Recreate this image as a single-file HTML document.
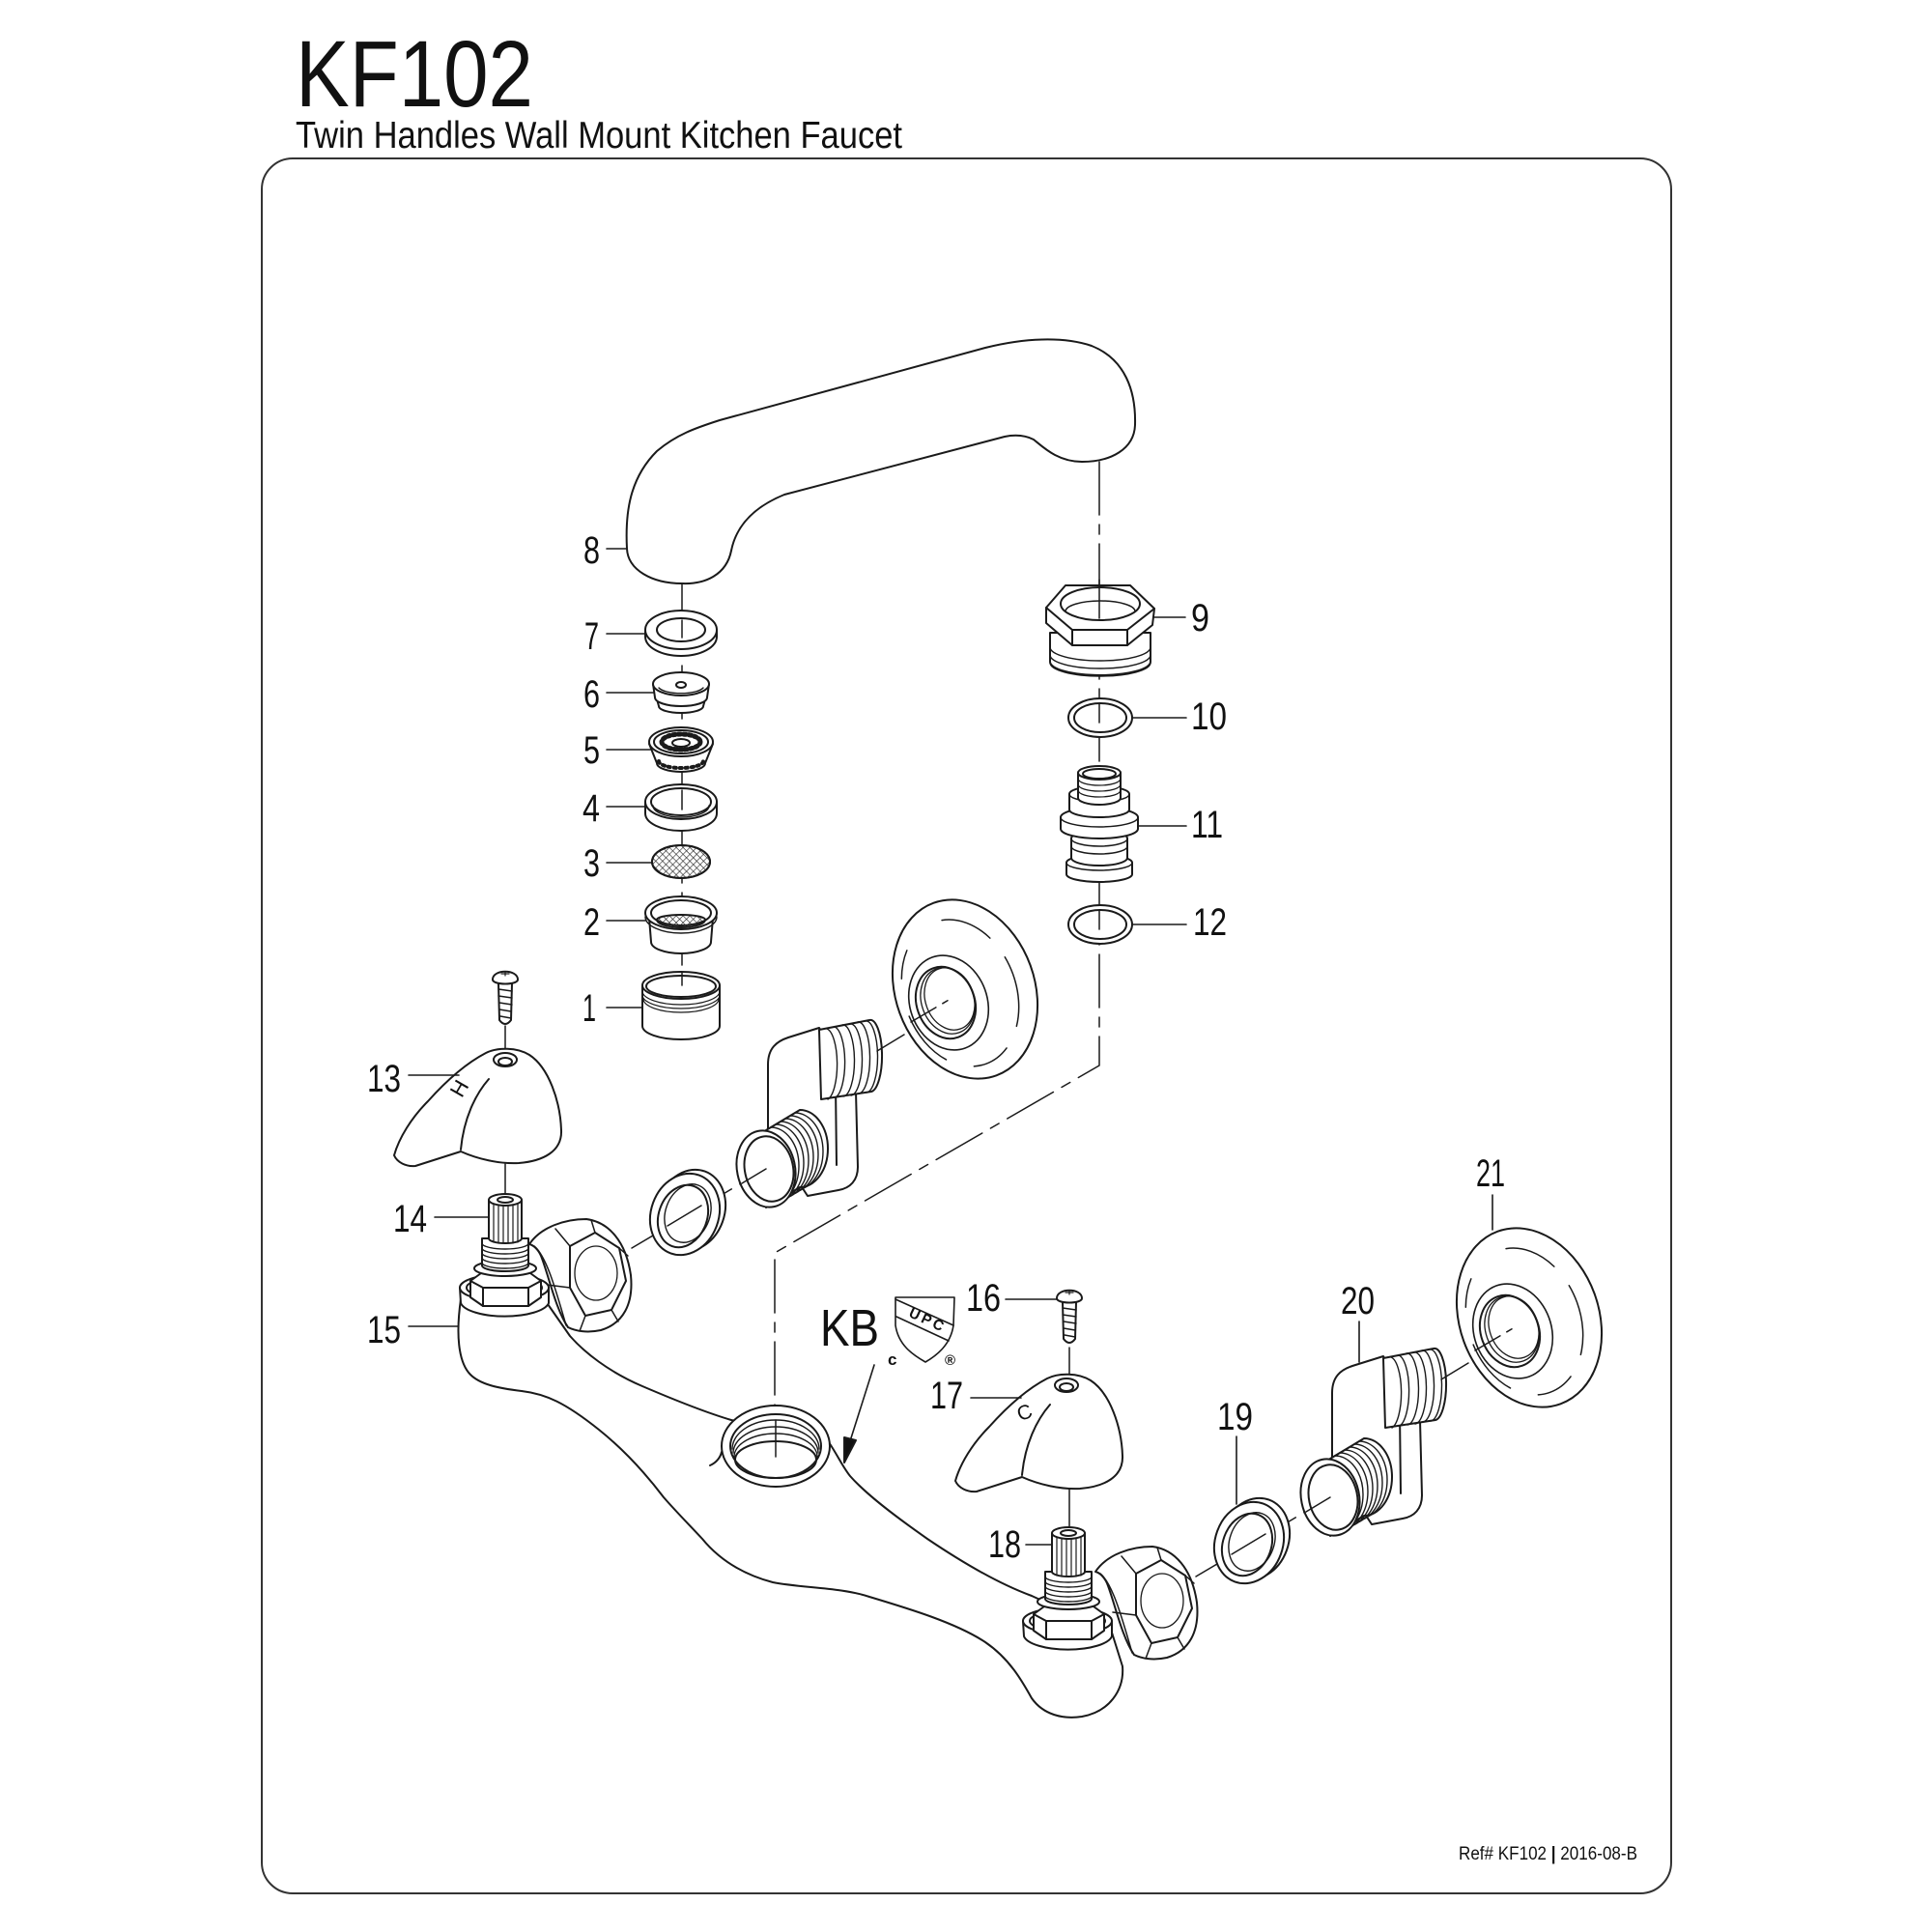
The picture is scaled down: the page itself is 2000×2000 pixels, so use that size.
<!DOCTYPE html>
<html><head><meta charset="utf-8">
<style>
html,body{margin:0;padding:0;background:#fff;}
svg{display:block;}
text{font-family:"Liberation Sans",Arial,sans-serif;fill:#111;stroke:none;}
</style></head><body>
<svg width="2000" height="2000" viewBox="0 0 2000 2000" xmlns="http://www.w3.org/2000/svg" xmlns:xlink="http://www.w3.org/1999/xlink">
<defs>
<pattern id="mesh" width="5" height="5" patternUnits="userSpaceOnUse" patternTransform="rotate(45)">
<path d="M0,0 L5,0 M0,0 L0,5" stroke="#222" stroke-width="1.2" fill="none"/>
</pattern>

<g id="screw">
<path d="M516,1018 L517,1056 Q523,1064 529,1056 L530,1018" fill="#fff"/>
<path d="M516,1024 L530,1026 M516,1031 L530,1033 M517,1038 L530,1040 M517,1045 L529,1047 M518,1052 L529,1054" stroke-width="1.4"/>
<path d="M510,1014 C510,1003 536,1003 536,1014 C536,1020 510,1020 510,1014 Z" fill="#fff"/>
<path d="M519,1008 L527,1008 M523,1006 L523,1010" stroke-width="1.2"/>
</g>

<g id="handle">
<path d="M503,1090 C515,1084 535,1084 548,1092 C568,1105 580,1140 581,1170 C582,1192 562,1202 537,1204 C517,1205 495,1200 477,1192 L430,1207 C420,1208 411,1203 408,1196 C413,1178 426,1157 443,1140 C460,1121 480,1102 503,1090 Z" fill="#fff"/>
<path d="M506,1117 C492,1133 480,1158 477,1190"/>
<ellipse cx="523" cy="1097" rx="12" ry="7" fill="#fff"/>
<ellipse cx="523" cy="1099" rx="7" ry="4"/>
</g>

<g id="stem">
<path d="M476,1333 L477,1349 A46,16 0 0 0 568,1349 L568,1333 Z" fill="#fff"/>
<ellipse cx="522" cy="1333" rx="46" ry="14" fill="#fff"/>
<ellipse cx="522" cy="1333" rx="39" ry="11"/>
<path d="M487,1326 L498,1318 L549,1318 L560,1326 L560,1343 L547,1352 L500,1352 L487,1343 Z" fill="#fff"/>
<path d="M487,1326 L500,1333 L547,1333 L560,1326 M500,1333 L500,1352 M547,1333 L547,1352"/>
<ellipse cx="523" cy="1313" rx="32" ry="8" fill="#fff"/>
<path d="M499,1282 L499,1310 A24,6 0 0 0 547,1310 L547,1282 Z" fill="#fff"/>
<path d="M499,1287 A24,6 0 0 0 547,1287 M499,1292 A24,6 0 0 0 547,1292 M499,1297 A24,6 0 0 0 547,1297 M499,1302 A24,6 0 0 0 547,1302 M499,1307 A24,6 0 0 0 547,1307" stroke-width="1.4"/>
<path d="M506,1242 L506,1282 A17,5 0 0 0 540,1282 L540,1242 Z" fill="#fff"/>
<path d="M511,1246 L511,1286 M516,1247 L516,1287 M521,1247 L521,1287 M526,1247 L526,1287 M531,1247 L531,1287 M536,1246 L536,1286" stroke-width="1.2"/>
<ellipse cx="523" cy="1242" rx="17" ry="6" fill="#fff"/>
<ellipse cx="523" cy="1242" rx="8" ry="3"/>
</g>

<g id="sidenut">
<path d="M548,1288 C560,1270 585,1262 607,1262 C630,1265 648,1285 653,1320 C656,1350 645,1370 622,1377 C608,1380 596,1378 588,1374 C575,1355 568,1320 560,1300 C557,1293 552,1289 548,1288 Z" fill="#fff"/>
<path d="M553,1290 C565,1300 574,1330 586,1372" stroke-width="1.5"/>
<path d="M590,1290 L616,1276 L641,1292 L648,1326 L633,1356 L606,1362 L590,1333 Z"/>
<path d="M575,1272 L590,1290 M590,1333 L566,1330 M606,1362 L600,1378 M641,1292 L650,1300 M633,1356 L640,1368 M616,1276 L612,1263" stroke-width="1.5"/>
<ellipse cx="617" cy="1318" rx="22" ry="28" stroke-width="1.3"/>
</g>

<g id="asm">
<line x1="1238" y1="1632" x2="1380" y2="1548" stroke-width="1.5" stroke-dasharray="45 10 10 10"/>
<ellipse cx="1299" cy="1593" rx="35" ry="43" transform="rotate(20 1299 1593)" fill="#fff"/>
<ellipse cx="1293" cy="1597" rx="35" ry="43" transform="rotate(20 1293 1597)" fill="#fff"/>
<ellipse cx="1291" cy="1599" rx="25" ry="33" transform="rotate(20 1291 1599)"/>
<ellipse cx="1296" cy="1596" rx="23" ry="31" transform="rotate(20 1296 1596)" stroke-width="1.4"/>
<line x1="1275" y1="1609" x2="1310" y2="1588" stroke-width="1.5"/>
<path d="M1379,1515 L1379,1442 C1379,1425 1388,1418 1400,1414 L1432,1404 L1470,1470 L1472,1548 C1472,1562 1464,1570 1452,1572 L1420,1578 Z" fill="#fff"/>
<path d="M1449,1462 L1450,1546"/>
<path d="M1432,1406 L1484,1396 A12,37 0 0 1 1486,1470 L1434,1478 Z" fill="#fff"/>
<path d="M1440,1405 A12,37 0 0 1 1441,1478 M1448,1403 A12,37 0 0 1 1449,1476 M1456,1401 A12,37 0 0 1 1457,1475 M1464,1400 A12,37 0 0 1 1465,1474 M1472,1398 A12,37 0 0 1 1473,1472 M1480,1397 A12,37 0 0 1 1481,1471" stroke-width="1.4"/>
<path d="M1377,1510 L1412,1489 A29,40 0 0 1 1412,1569 L1377,1590 Z" fill="#fff"/>
<path d="M1382,1507 A29,40 0 0 1 1382,1587 M1387,1504 A29,40 0 0 1 1387,1584 M1392,1501 A29,40 0 0 1 1392,1581 M1397,1498 A29,40 0 0 1 1397,1578 M1402,1495 A29,40 0 0 1 1402,1575 M1407,1492 A29,40 0 0 1 1407,1572" stroke-width="1.4"/>
<ellipse cx="1377" cy="1550" rx="30" ry="40" transform="rotate(-12 1377 1550)" fill="#fff"/>
<ellipse cx="1380" cy="1550" rx="25" ry="34" transform="rotate(-12 1380 1550)"/>
<line x1="1352" y1="1565" x2="1377" y2="1550" stroke-width="1.5"/>
<line x1="1492" y1="1428" x2="1520" y2="1411" stroke-width="1.5"/>
<ellipse cx="1583" cy="1364" rx="72" ry="95" transform="rotate(-20 1583 1364)" fill="#fff"/>
<ellipse cx="1578" cy="1368" rx="58" ry="78" transform="rotate(-20 1578 1368)" stroke-width="1.5" stroke-dasharray="55 25 40 30 60 40 30 50"/>
<ellipse cx="1566" cy="1378" rx="40" ry="50" transform="rotate(-20 1566 1378)" fill="#fff" stroke-width="1.6"/>
<ellipse cx="1563" cy="1378" rx="30" ry="38" transform="rotate(-20 1563 1378)"/>
<ellipse cx="1565" cy="1376" rx="27" ry="35" transform="rotate(-20 1565 1376)" stroke-width="1.3"/>
<ellipse cx="1567" cy="1374" rx="25" ry="33" transform="rotate(-20 1567 1374)" stroke-width="1.3"/>
<line x1="1527" y1="1398" x2="1568" y2="1374" stroke-width="1.5" stroke-dasharray="30 8 6 8"/>
</g>
</defs>

<!-- Title -->
<text x="306" y="110" font-size="97" textLength="246" lengthAdjust="spacingAndGlyphs">KF102</text>
<text x="306" y="153" font-size="39" textLength="628" lengthAdjust="spacingAndGlyphs">Twin Handles Wall Mount Kitchen Faucet</text>

<!-- Frame -->
<rect x="271" y="164" width="1459" height="1796" rx="32" ry="32" fill="none" stroke="#333" stroke-width="2"/>

<!-- Footer -->
<text x="1510" y="1925" font-size="19" textLength="185" lengthAdjust="spacingAndGlyphs">Ref# KF102 <tspan font-weight="bold">|</tspan> 2016-08-B</text>

<g stroke="#1a1a1a" stroke-width="2" fill="none" stroke-linecap="round" stroke-linejoin="round">

<!-- Axes (dash-dot) -->
<g stroke-width="1.5" stroke-dasharray="55 10 10 10">
<line x1="706" y1="604" x2="706" y2="1022"/>
<polyline points="1138,478 1138,1103 802,1297 802,1508"/>
<line x1="523" y1="1062" x2="523" y2="1092"/>
<line x1="523" y1="1205" x2="523" y2="1240"/>
<line x1="1107" y1="1395" x2="1107" y2="1428"/>
<line x1="1107" y1="1540" x2="1107" y2="1580"/>
</g>

<!-- Spout 8 -->
<path d="M649,568 C647,530 652,495 680,467 C700,450 720,443 745,435 L1020,360 C1060,350 1100,348 1130,358 C1165,372 1176,405 1175,440 C1174,465 1150,478 1120,478 C1095,478 1080,463 1070,455 C1060,450 1050,450 1040,452 L812,512 C780,525 762,545 757,570 C752,595 730,605 706,604 C675,604 650,590 649,568 Z" fill="#fff"/>

<!-- Part 7 -->
<path d="M668,652 L668,659 A37,20 0 0 0 742,659 L742,652 Z" fill="#fff"/>
<ellipse cx="705" cy="652" rx="37" ry="20" fill="#fff"/>
<ellipse cx="705" cy="652" rx="25" ry="12"/>
<line x1="706" y1="642" x2="706" y2="660" stroke-width="1.5"/>

<!-- Part 6 -->
<path d="M680,724 L682,731 A23,7 0 0 0 728,731 L730,724 Z" fill="#fff"/>
<path d="M676,708 L678,722 A27,9 0 0 0 732,722 L734,708 Z" fill="#fff"/>
<ellipse cx="705" cy="708" rx="29" ry="12" fill="#fff"/>
<path d="M682,712 A24,8 0 0 0 728,712" stroke-width="1.4"/>
<ellipse cx="705" cy="709" rx="5" ry="3"/>

<!-- Part 5 -->
<path d="M672,770 L680,790 A25,9 0 0 0 730,790 L738,770 Z" fill="#fff"/>
<path d="M682,788 A23,7 0 0 0 728,788" stroke-width="4" stroke-dasharray="2 4"/>
<ellipse cx="705" cy="768" rx="33" ry="15" fill="#fff"/>
<ellipse cx="705" cy="768" rx="28" ry="12"/>
<ellipse cx="705" cy="768" rx="20" ry="8" stroke-width="5" stroke-dasharray="2.5 3"/>
<ellipse cx="705" cy="769" rx="9" ry="4"/>

<!-- Part 4 -->
<path d="M668,830 L668,842 A37,18 0 0 0 742,842 L742,830 Z" fill="#fff"/>
<ellipse cx="705" cy="830" rx="37" ry="18" fill="#fff"/>
<ellipse cx="705" cy="830" rx="31" ry="14"/>
<path d="M676,834 A29,12 0 0 0 734,834" stroke-width="1.4"/>
<line x1="706" y1="818" x2="706" y2="838" stroke-width="1.5"/>

<!-- Part 3 -->
<ellipse cx="705" cy="892" rx="30" ry="17" fill="#fff"/>
<ellipse cx="705" cy="892" rx="30" ry="17" fill="url(#mesh)"/>

<!-- Part 2 -->
<path d="M672,950 L674,975 A31,12 0 0 0 736,975 L738,950 Z" fill="#fff"/>
<ellipse cx="705" cy="945" rx="37" ry="17" fill="#fff"/>
<ellipse cx="705" cy="945" rx="31" ry="13"/>
<path d="M680,952 A25,8 0 0 0 730,952 A25,5 0 0 0 680,952 Z" fill="url(#mesh)"/>
<path d="M668,949 A37,17 0 0 0 742,949" stroke-width="1.4"/>

<!-- Part 1 -->
<path d="M665,1020 L665,1062 A40,14 0 0 0 745,1062 L745,1020 Z" fill="#fff"/>
<ellipse cx="705" cy="1020" rx="40" ry="14" fill="#fff"/>
<ellipse cx="705" cy="1021" rx="36" ry="11"/>
<path d="M665,1026 A40,14 0 0 0 745,1026 M665,1030 A40,14 0 0 0 745,1030 M666,1034 A39,14 0 0 0 744,1034" stroke-width="1.2"/>
<line x1="706" y1="1006" x2="706" y2="1020" stroke-width="1.5"/>

<!-- Part 9 -->
<path d="M1087,655 L1087,685 A52,14 0 0 0 1191,685 L1191,655 Z" fill="#fff"/>
<path d="M1087,670 A52,14 0 0 0 1191,670 M1087,678 A52,14 0 0 0 1191,678 M1087,686 A52,14 0 0 0 1191,686" stroke-width="1.4"/>
<path d="M1083,629 L1103,606 L1170,606 L1195,630 L1193,647 L1167,668 L1110,668 L1083,645 Z" fill="#fff"/>
<path d="M1083,629 L1110,652 L1167,652 L1195,630 M1110,652 L1110,668 M1167,652 L1167,668"/>
<ellipse cx="1139" cy="625" rx="41" ry="17"/>
<path d="M1103,633 A36,11 0 0 1 1175,633" stroke-width="1.5"/>
<line x1="1138" y1="600" x2="1138" y2="640" stroke-width="1.5"/>

<!-- Part 10 -->
<ellipse cx="1139" cy="743" rx="33" ry="20" fill="#fff"/>
<ellipse cx="1139" cy="743" rx="27" ry="15"/>
<line x1="1138" y1="728" x2="1138" y2="748" stroke-width="1.5"/>

<!-- Part 11 -->
<path d="M1104,893 L1104,905 A34,8 0 0 0 1172,905 L1172,893 A34,8 0 0 0 1104,893 Z" fill="#fff"/>
<path d="M1104,893 A34,8 0 0 0 1172,893" stroke-width="1.5"/>
<path d="M1109,868 L1109,888 A29,8 0 0 0 1167,888 L1167,868 A29,8 0 0 0 1109,868 Z" fill="#fff"/>
<path d="M1109,868 A29,8 0 0 0 1167,868 M1109,876 A29,8 0 0 0 1167,876" stroke-width="1.5"/>
<path d="M1098,846 L1098,858 A40,10 0 0 0 1178,858 L1178,846 A40,10 0 0 0 1098,846 Z" fill="#fff"/>
<path d="M1098,846 A40,10 0 0 0 1178,846" stroke-width="1.5"/>
<path d="M1107,822 L1107,838 A31,8 0 0 0 1169,838 L1169,822 A31,8 0 0 0 1107,822 Z" fill="#fff"/>
<path d="M1107,822 A31,8 0 0 0 1169,822" stroke-width="1.5"/>
<path d="M1116,800 L1116,826 A22,7 0 0 0 1160,826 L1160,800 Z" fill="#fff"/>
<path d="M1116,806 A22,7 0 0 0 1160,806 M1116,812 A22,7 0 0 0 1160,812 M1116,818 A22,7 0 0 0 1160,818" stroke-width="1.3"/>
<ellipse cx="1138" cy="800" rx="22" ry="7" fill="#fff"/>
<ellipse cx="1138" cy="801" rx="17" ry="5"/>

<!-- Part 12 -->
<ellipse cx="1139" cy="957" rx="33" ry="20" fill="#fff"/>
<ellipse cx="1139" cy="957" rx="27" ry="15"/>
<line x1="1138" y1="942" x2="1138" y2="962" stroke-width="1.5"/>

<!-- Main body 15 -->
<path d="M477,1345 C472,1380 474,1410 487,1423 C497,1433 515,1437 540,1440 C565,1443 585,1452 620,1480 C645,1500 668,1525 687,1550 C700,1565 715,1580 727,1593 C745,1615 770,1630 800,1638 C830,1644 870,1643 900,1653 C940,1665 990,1680 1020,1700 C1045,1717 1058,1740 1068,1758 C1080,1775 1100,1780 1120,1777 C1148,1772 1164,1750 1162,1725 L1151,1690 L1068,1652 C1035,1640 1000,1620 960,1593 C920,1565 895,1545 880,1528 C872,1518 868,1508 858,1493 L757,1470 C730,1462 700,1450 665,1435 C630,1420 605,1400 590,1383 L560,1340 Z" fill="#fff"/>
<!-- hole -->
<ellipse cx="803" cy="1497" rx="56" ry="42" fill="#fff"/>
<ellipse cx="803" cy="1497" rx="47" ry="33"/>
<path d="M758,1500 A45,30 0 0 1 848,1500 M759,1504 A44,27 0 0 1 847,1504 M760,1508 A43,24 0 0 1 846,1508" stroke-width="1.4"/>
<ellipse cx="803" cy="1511" rx="42" ry="19"/>
<path d="M735,1517 C742,1514 746,1508 747,1503"/>
<line x1="803" y1="1470" x2="803" y2="1508" stroke-width="1.5"/>

<!-- KB arrow -->
<line x1="905" y1="1413" x2="879" y2="1495" stroke-width="1.6"/>
<path d="M874,1488 L886,1491 L874,1514 Z" fill="#111"/>

<!-- Valves -->
<use xlink:href="#sidenut"/>
<use xlink:href="#sidenut" transform="translate(586,339)"/>
<use xlink:href="#stem"/>
<use xlink:href="#stem" transform="translate(583,345)"/>
<use xlink:href="#handle"/>
<use xlink:href="#handle" transform="translate(581,337)"/>
<use xlink:href="#screw"/>
<use xlink:href="#screw" transform="translate(584,330)"/>

<!-- side assemblies -->
<use xlink:href="#asm"/>
<use xlink:href="#asm" transform="translate(-584,-340)"/>

<!-- UPC shield -->
<path d="M927,1343 L988,1343 L987,1372 C984,1392 970,1403 958,1410 C944,1402 930,1392 927,1372 Z" fill="#fff" stroke-width="1.6"/>
<path d="M927,1345 L987,1372 M928,1363 L982,1388" stroke-width="1.6"/>

<!-- Leaders -->
<g stroke-width="1.6">
<line x1="628" y1="568" x2="649" y2="568"/>
<line x1="628" y1="656" x2="668" y2="656"/>
<line x1="628" y1="717" x2="677" y2="717"/>
<line x1="628" y1="776" x2="673" y2="776"/>
<line x1="628" y1="835" x2="668" y2="835"/>
<line x1="628" y1="893" x2="675" y2="893"/>
<line x1="628" y1="953" x2="668" y2="953"/>
<line x1="628" y1="1043" x2="665" y2="1043"/>
<line x1="1195" y1="639" x2="1227" y2="639"/>
<line x1="1172" y1="743" x2="1228" y2="743"/>
<line x1="1178" y1="855" x2="1228" y2="855"/>
<line x1="1172" y1="957" x2="1228" y2="957"/>
<line x1="423" y1="1113" x2="475" y2="1113"/>
<line x1="450" y1="1260" x2="505" y2="1260"/>
<line x1="423" y1="1373" x2="474" y2="1373"/>
<line x1="1041" y1="1345" x2="1094" y2="1345"/>
<line x1="1005" y1="1447" x2="1057" y2="1447"/>
<line x1="1062" y1="1599" x2="1088" y2="1599"/>
<line x1="1280" y1="1487" x2="1280" y2="1557"/>
<line x1="1407" y1="1368" x2="1407" y2="1410"/>
<line x1="1545" y1="1237" x2="1545" y2="1273"/>
</g>
</g>

<!-- Handle symbols -->
<text x="468" y="1134" font-size="22" transform="rotate(-60 476 1127)">H</text>
<text x="1053" y="1469" font-size="21" transform="rotate(-20 1061 1462)">C</text>

<!-- KB / UPC text -->
<text x="849" y="1393" font-size="54" textLength="61" lengthAdjust="spacingAndGlyphs">KB</text>
<text x="919" y="1413" font-size="17" font-weight="bold">c</text>
<text x="978" y="1413" font-size="15" font-weight="bold">®</text>
<text x="940" y="1370" font-size="15" font-weight="bold" letter-spacing="3" transform="rotate(25 957 1366)">UPC</text>

<!-- Part labels -->
<g font-size="40">
<text x="604" y="583" textLength="17" lengthAdjust="spacingAndGlyphs">8</text>
<text x="605" y="672" textLength="15" lengthAdjust="spacingAndGlyphs">7</text>
<text x="604" y="732" textLength="17" lengthAdjust="spacingAndGlyphs">6</text>
<text x="604" y="790" textLength="17" lengthAdjust="spacingAndGlyphs">5</text>
<text x="603" y="850" textLength="18" lengthAdjust="spacingAndGlyphs">4</text>
<text x="604" y="907" textLength="17" lengthAdjust="spacingAndGlyphs">3</text>
<text x="604" y="968" textLength="17" lengthAdjust="spacingAndGlyphs">2</text>
<text x="603" y="1057" textLength="14" lengthAdjust="spacingAndGlyphs">1</text>
<text x="1233" y="653" textLength="19" lengthAdjust="spacingAndGlyphs">9</text>
<text x="1233" y="755" textLength="37" lengthAdjust="spacingAndGlyphs">10</text>
<text x="1233" y="867" textLength="33" lengthAdjust="spacingAndGlyphs">11</text>
<text x="1235" y="968" textLength="35" lengthAdjust="spacingAndGlyphs">12</text>
<text x="380" y="1130" textLength="35" lengthAdjust="spacingAndGlyphs">13</text>
<text x="407" y="1275" textLength="35" lengthAdjust="spacingAndGlyphs">14</text>
<text x="380" y="1390" textLength="35" lengthAdjust="spacingAndGlyphs">15</text>
<text x="1000" y="1357" textLength="36" lengthAdjust="spacingAndGlyphs">16</text>
<text x="963" y="1458" textLength="34" lengthAdjust="spacingAndGlyphs">17</text>
<text x="1023" y="1612" textLength="34" lengthAdjust="spacingAndGlyphs">18</text>
<text x="1260" y="1480" textLength="37" lengthAdjust="spacingAndGlyphs">19</text>
<text x="1388" y="1360" textLength="35" lengthAdjust="spacingAndGlyphs">20</text>
<text x="1528" y="1228" textLength="30" lengthAdjust="spacingAndGlyphs">21</text>
</g>
</svg>
</body></html>
